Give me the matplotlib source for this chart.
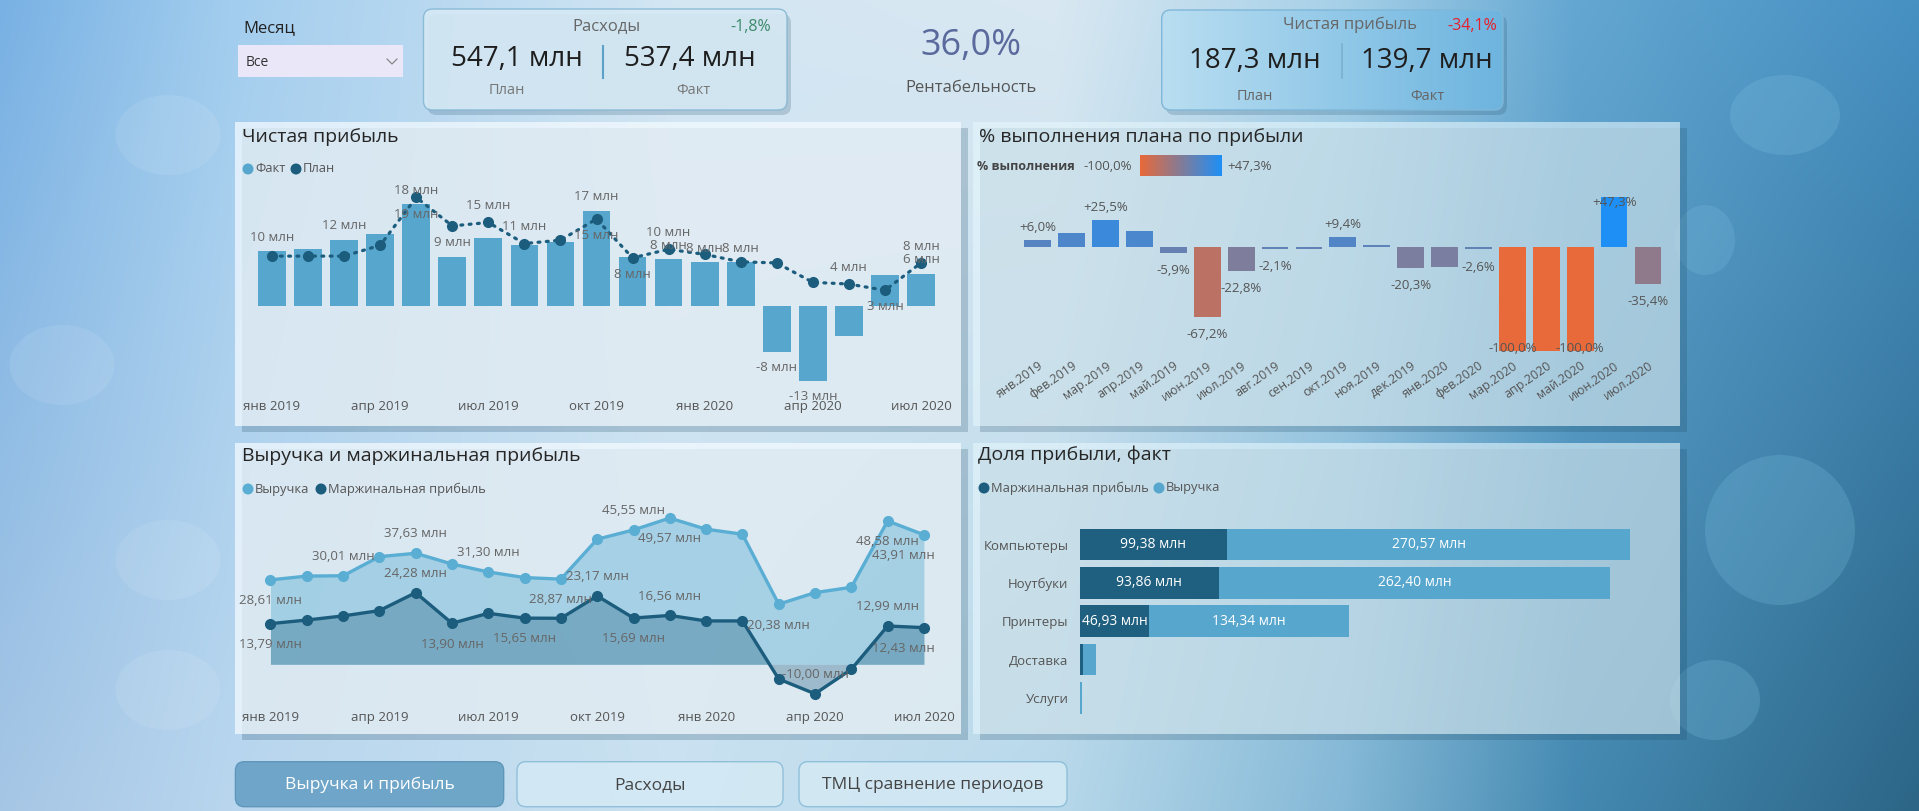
import numpy as np
import matplotlib
matplotlib.use('Agg')
import matplotlib.pyplot as plt
from matplotlib.patches import FancyBboxPatch, Rectangle, Ellipse, Circle
from matplotlib.colors import LinearSegmentedColormap, Normalize, to_rgb

W, H = 1919, 811

# ---- данные ----
month_abbr = ['янв', 'фев', 'мар', 'апр', 'май', 'июн', 'июл', 'авг', 'сен', 'окт', 'ноя', 'дек',
              'янв', 'фев', 'мар', 'апр', 'май', 'июн', 'июл']
month_year = [2019, 2019, 2019, 2019, 2019, 2019, 2019, 2019, 2019, 2019, 2019, 2019,
              2020, 2020, 2020, 2020, 2020, 2020, 2020]

# Чистая прибыль, млн
profit_fact = [9.6, 9.9, 11.6, 12.5, 17.8, 8.6, 11.8, 10.6, 11.2, 16.7, 8.6, 8.2,
               7.6, 7.6, -8.1, -13.2, -5.4, 5.4, 5.6]
profit_plan = [8.7, 8.7, 8.7, 10.6, 19.0, 14.0, 14.6, 10.9, 11.5, 15.2, 8.4, 9.9,
               9.0, 7.7, 7.5, 4.1, 3.8, 2.7, 7.5]

# % выполнения плана по прибыли
pct_done = [6.0, 12.8, 25.5, 15.0, -5.9, -67.2, -22.8, -2.1, -1.8, 9.4, 1.2, -20.3,
            -19.8, -2.6, -100.0, -100.0, -100.0, 47.3, -35.4]

# Выручка и маржинальная прибыль, млн
revenue = [28.61, 29.9, 30.01, 36.5, 37.63, 34.0, 31.30, 29.4, 28.87, 42.4, 45.55, 49.57,
           45.8, 44.1, 20.38, 24.3, 26.1, 48.58, 43.91]
margin = [13.79, 15.0, 16.4, 18.2, 24.28, 13.90, 17.3, 15.65, 15.6, 23.17, 15.69, 16.56,
          14.7, 14.7, -5.0, -10.00, -1.7, 12.99, 12.43]

# Доля прибыли, факт
categories = ['Компьютеры', 'Ноутбуки', 'Принтеры', 'Доставка', 'Услуги']
cat_margin = [99.38, 93.86, 46.93, 2.6, 0.4]
cat_revenue = [270.57, 262.40, 134.34, 8.7, 1.0]

# карточки
costs_plan, costs_fact = 547.1, 537.4
np_plan, np_fact = 187.3, 139.7
rentab = 36.0

# какие подписи видны (как в отчёте)
fact_lbl = {0: 'up', 2: 'up', 4: 'up', 5: 'up', 9: 'up', 11: 'up', 12: 'up', 13: 'up',
            14: 'down', 15: 'down', 18: 'up'}
plan_lbl = {4: 'down', 6: 'up', 7: 'up', 9: 'down', 10: 'down', 11: 'up', 16: 'up',
            17: 'down', 18: 'up'}
pct_lbl = [0, 2, 4, 5, 6, 7, 9, 11, 13, 14, 16, 17, 18]
rev_lbl = {0: 'down', 2: 'up', 4: 'up', 6: 'up', 8: 'down', 10: 'up', 11: 'down',
           14: 'down', 17: 'down', 18: 'down'}
marg_lbl = {0: 'down', 4: 'up', 5: 'down', 7: 'down', 9: 'up', 10: 'down', 11: 'up',
            15: 'up', 17: 'up', 18: 'down'}

FACT_C = '#56a6cd'
PLAN_C = '#1c5d7e'
LBL_C = '#666666'
TITLE_C = '#252525'

plt.rcParams['font.family'] = ['Open Sans', 'DejaVu Sans']


def rus(v, nd):
    return f'{v:.{nd}f}'.replace('.', ',')


def px_axes(fig, x0, y0, x1, y1):
    ax = fig.add_axes([x0 / W, 1 - y1 / H, (x1 - x0) / W, (y1 - y0) / H])
    ax.set_facecolor('none')
    for s in ax.spines.values():
        s.set_visible(False)
    return ax


def gradient_rows(xs, stops):
    pos = [s[0] for s in stops]
    cols = np.array([to_rgb(s[1]) for s in stops])
    return np.stack([np.interp(xs, pos, cols[:, k]) for k in range(3)], axis=1)


def draw_background(bg):
    xs = np.linspace(0, 1, W)
    top = gradient_rows(xs, [(0, '#78b1e4'), (0.12, '#a2cdee'), (0.35, '#d3e6f3'),
                             (0.55, '#d9e8f2'), (0.7, '#a6d0e8'), (0.82, '#64a7d2'), (1, '#4690c2')])
    bot = gradient_rows(xs, [(0, '#a6c6e5'), (0.12, '#b9d6ee'), (0.35, '#c9e1f0'),
                             (0.55, '#b7d8ea'), (0.7, '#84b8d6'), (0.82, '#4489b1'), (1, '#2c6586')])
    t = np.linspace(0, 1, H)[:, None, None]
    img = top[None] * (1 - t) + bot[None] * t
    bg.imshow(img, extent=(0, W, H, 0), aspect='auto', zorder=0)
    # размытые блики
    for cx, cy, w, h in [(168, 135, 105, 80), (62, 365, 105, 80), (168, 560, 105, 80),
                         (168, 690, 105, 80)]:
        bg.add_patch(Ellipse((cx, cy), w, h, fc='white', alpha=0.09, lw=0, zorder=0.5))
    for cx, cy, w, h in [(1785, 115, 110, 80), (1705, 240, 60, 70), (1780, 530, 150, 150),
                         (1715, 700, 90, 80)]:
        bg.add_patch(Ellipse((cx, cy), w, h, fc='#7cc0e0', alpha=0.25, lw=0, zorder=0.5))


def panel(bg, x0, y0, x1, y1, fc, alpha):
    bg.add_patch(Rectangle((x0 + 7, y0 + 6), x1 - x0, y1 - y0, fc='#1b4763', alpha=0.22,
                           lw=0, zorder=1))
    bg.add_patch(Rectangle((x0, y0), x1 - x0, y1 - y0, fc=fc, alpha=alpha, lw=0, zorder=2))


def card(bg, x0, y0, x1, y1, fc, ec, alpha=0.9, shadow=True):
    if shadow:
        bg.add_patch(FancyBboxPatch((x0 + 4, y0 + 5), x1 - x0, y1 - y0,
                                    boxstyle='round,pad=0,rounding_size=9',
                                    fc='#1b4763', alpha=0.2, lw=0, zorder=1))
    p = FancyBboxPatch((x0, y0), x1 - x0, y1 - y0, boxstyle='round,pad=0,rounding_size=9',
                       fc=fc, ec=ec, lw=1.0, alpha=alpha, zorder=2)
    bg.add_patch(p)
    return p


def legend_dot(bg, x, y, color, text, size=9.3):
    bg.add_patch(Circle((x, y), 5.5, fc=color, lw=0, zorder=5))
    bg.text(x + 7, y, text, fontsize=size, color='#555555', va='center', ha='left', zorder=5)


def header(bg):
    bg.text(243, 28, 'Месяц', fontsize=12, color='#222222', va='center', zorder=5)
    bg.add_patch(Rectangle((238, 45), 165, 32, fc='#e9e7f8', lw=0, zorder=3))
    bg.text(246, 62, 'Все', fontsize=10, color='#333333', va='center', zorder=5)
    bg.plot([387, 392, 397], [59, 64, 59], color='#888888', lw=0.9, zorder=5)

    # Расходы
    card(bg, 423.5, 9, 787, 110, '#d6e9f5', '#86b7d3')
    bg.text(606, 26, 'Расходы', fontsize=12, color='#666666', ha='center', va='center', zorder=5)
    dev_c = (costs_fact - costs_plan) / costs_fact * 100
    bg.text(771, 27, f'{rus(dev_c, 1)}%', fontsize=11.5, color='#3c8a6a', ha='right',
            va='center', zorder=5)
    bg.text(517, 59, f'{rus(costs_plan, 1)} млн', fontsize=20, color='#1e1e1e', ha='center',
            va='center', zorder=5)
    bg.text(690, 59, f'{rus(costs_fact, 1)} млн', fontsize=20, color='#1e1e1e', ha='center',
            va='center', zorder=5)
    bg.plot([603, 603], [46, 78], color='#5aa0c8', lw=1.5, zorder=5)
    bg.text(507, 90, 'План', fontsize=10.5, color='#777777', ha='center', va='center', zorder=5)
    bg.text(693, 90, 'Факт', fontsize=10.5, color='#777777', ha='center', va='center', zorder=5)

    # Рентабельность
    bg.text(971, 46, f'{rus(rentab, 1)}%', fontsize=26, color='#5a6a9c', ha='center',
            va='center', zorder=5)
    bg.text(971, 88, 'Рентабельность', fontsize=12, color='#555555', ha='center',
            va='center', zorder=5)

    # Чистая прибыль
    p = card(bg, 1161.7, 10, 1503, 110, 'none', '#7fb7d8', alpha=1)
    grad = gradient_rows(np.linspace(0, 1, 200), [(0, '#b9def1'), (1, '#6db4df')])
    im = bg.imshow(np.repeat(grad[None], 2, axis=0), extent=(1161.7, 1503, 110, 10),
                   aspect='auto', zorder=1.9)
    im.set_clip_path(p)
    dev_p = (np_fact - np_plan) / np_fact * 100
    bg.text(1350, 25, 'Чистая прибыль', fontsize=12, color='#666666', ha='center',
            va='center', zorder=5)
    bg.text(1497, 26, f'{rus(dev_p, 1)}%', fontsize=11.5, color='#e81e2a', ha='right',
            va='center', zorder=5)
    bg.text(1255, 61, f'{rus(np_plan, 1)} млн', fontsize=20, color='#1e1e1e', ha='center',
            va='center', zorder=5)
    bg.text(1427, 61, f'{rus(np_fact, 1)} млн', fontsize=20, color='#1e1e1e', ha='center',
            va='center', zorder=5)
    bg.plot([1342, 1342], [44, 78], color='#7ab0cf', lw=1.2, zorder=5)
    bg.text(1255, 96, 'План', fontsize=10.5, color='#666666', ha='center', va='center', zorder=5)
    bg.text(1427, 96, 'Факт', fontsize=10.5, color='#666666', ha='center', va='center', zorder=5)


def buttons(bg):
    card(bg, 235.4, 761.7, 503.7, 806.7, '#6aa3c6', '#5d95b8', alpha=0.95, shadow=False)
    bg.text(370, 785, 'Выручка и прибыль', fontsize=12.5, color='white', ha='center',
            va='center', zorder=5)
    card(bg, 517, 761.7, 783, 806.7, '#d4eaf5', '#86bad6', alpha=0.85, shadow=False)
    bg.text(650, 785, 'Расходы', fontsize=12.5, color='#444444', ha='center', va='center', zorder=5)
    card(bg, 799, 761.7, 1067, 806.7, '#d4eaf5', '#86bad6', alpha=0.85, shadow=False)
    bg.text(933, 785, 'ТМЦ сравнение периодов', fontsize=12.5, color='#444444', ha='center',
            va='center', zorder=5)


def chart_profit(fig, bg):
    bg.text(242, 137, 'Чистая прибыль', fontsize=14, color=TITLE_C, va='center', zorder=5)
    legend_dot(bg, 248, 169, FACT_C, 'Факт')
    legend_dot(bg, 296, 169, PLAN_C, 'План')

    x = np.arange(len(profit_fact))
    ax = px_axes(fig, 250.4, 180.3, 942.6, 391.2)
    ax.bar(x, profit_fact, width=0.77, color=FACT_C, zorder=2)
    ax.plot(x, profit_plan, ls=(0, (0.6, 2.0)), lw=2.3, color=PLAN_C, dash_capstyle='round',
            zorder=3)
    ax.plot(x, profit_plan, ls='none', marker='o', ms=7, color=PLAN_C, zorder=4)
    ax.set_xlim(-0.6, 18.6)
    ax.set_ylim(-15, 22)
    ax.set_yticks([])
    ax.set_xticks(x[::3], [f'{month_abbr[i]} {month_year[i]}' for i in x[::3]])
    ax.tick_params(axis='x', length=0, pad=6, labelsize=9.5, colors='#555555')
    for i, side in fact_lbl.items():
        off = 10 if side == 'up' else -11
        ax.annotate(f'{profit_fact[i]:.0f} млн', (i, profit_fact[i]), xytext=(0, off),
                    textcoords='offset points', ha='center', va='center', fontsize=9.5,
                    color=LBL_C, zorder=5)
    for i, side in plan_lbl.items():
        off = 12 if side == 'up' else -12
        ax.annotate(f'{profit_plan[i]:.0f} млн', (i, profit_plan[i]), xytext=(0, off),
                    textcoords='offset points', ha='center', va='center', fontsize=9.5,
                    color=LBL_C, zorder=5)


def chart_pct(fig, bg):
    bg.text(979, 137, '% выполнения плана по прибыли', fontsize=14, color=TITLE_C,
            va='center', zorder=5)
    cmap = LinearSegmentedColormap.from_list('pct', ['#e8693a', '#1e8ff5'])
    norm = Normalize(min(pct_done), max(pct_done))
    bg.text(977, 166, '% выполнения', fontsize=9, color='#444444', fontweight='bold',
            va='center', zorder=5)
    bg.text(1083, 166, f'{rus(min(pct_done), 1)}%', fontsize=9.5, color='#555555',
            va='center', zorder=5)
    bg.imshow(np.linspace(0, 1, 100)[None], cmap=cmap, extent=(1140, 1222, 176, 155),
              aspect='auto', zorder=5)
    bg.text(1227, 166, f'+{rus(max(pct_done), 1)}%', fontsize=9.5, color='#555555',
            va='center', zorder=5)

    x = np.arange(len(pct_done))
    ax = px_axes(fig, 1017.4, 189.2, 1668.3, 356.4)
    ax.bar(x, pct_done, width=0.79, color=cmap(norm(np.array(pct_done))), zorder=2)
    ax.set_xlim(-0.6, 18.6)
    ax.set_ylim(-105, 55)
    ax.set_yticks([])
    ax.set_xticks(x, [f'{month_abbr[i]}.{month_year[i]}' for i in x], rotation=35,
                  ha='right', rotation_mode='anchor')
    ax.tick_params(axis='x', length=0, pad=2, labelsize=9, colors='#555555')
    for i in pct_lbl:
        v = pct_done[i]
        txt = (f'+{rus(v, 1)}%' if v > 0 else f'{rus(v, 1)}%')
        if v >= 0:
            off = 9 if v + 19 < 55 else -4
        else:
            off = -13 if v - 24 > -105 else 2
        ax.annotate(txt, (i, v), xytext=(0, off), textcoords='offset points', ha='center',
                    va='center', fontsize=9.5, color='#555555', zorder=5)


def chart_revenue(fig, bg):
    bg.text(242, 456, 'Выручка и маржинальная прибыль', fontsize=14, color=TITLE_C,
            va='center', zorder=5)
    legend_dot(bg, 248, 489, '#5aaed4', 'Выручка')
    legend_dot(bg, 321, 489, PLAN_C, 'Маржинальная прибыль')

    x = np.arange(len(revenue))
    ax = px_axes(fig, 248.7, 493.2, 945.7, 705.6)
    ax.fill_between(x, 0, revenue, color='#5aaed4', alpha=0.42, lw=0, zorder=1)
    ax.fill_between(x, 0, margin, color=PLAN_C, alpha=0.33, lw=0, zorder=2)
    ax.plot(x, revenue, color='#5aaed4', lw=2.4, marker='o', ms=7, zorder=3)
    ax.plot(x, margin, color=PLAN_C, lw=2.4, marker='o', ms=7, zorder=4)
    ax.set_xlim(-0.6, 18.6)
    ax.set_ylim(-14, 58)
    ax.set_yticks([])
    ax.set_xticks(x[::3], [f'{month_abbr[i]} {month_year[i]}' for i in x[::3]])
    ax.tick_params(axis='x', length=0, pad=4, labelsize=9.5, colors='#555555')
    last = len(x) - 1
    for series, lbls in ((revenue, rev_lbl), (margin, marg_lbl)):
        for i, side in lbls.items():
            off = 14 if side == 'up' else -15
            ha, dx = ('right', 8) if i == last else ('center', 0)
            ax.annotate(f'{rus(series[i], 2)} млн', (i, series[i]), xytext=(dx, off),
                        textcoords='offset points', ha=ha, va='center', fontsize=9.5,
                        color=LBL_C, zorder=5)


def chart_share(fig, bg):
    bg.text(978, 455, 'Доля прибыли, факт', fontsize=14, color=TITLE_C, va='center', zorder=5)
    legend_dot(bg, 984, 488, PLAN_C, 'Маржинальная прибыль')
    legend_dot(bg, 1159, 488, FACT_C, 'Выручка')

    y = np.arange(len(categories))
    ax = px_axes(fig, 1079.5, 521.6, 1637.5, 720.8)
    ax.barh(y, cat_margin, height=0.83, color='#1f6080', zorder=2)
    ax.barh(y, cat_revenue, left=cat_margin, height=0.83, color=FACT_C, zorder=2)
    ax.set_xlim(0, 375)
    ax.set_ylim(4.6, -0.6)
    ax.set_xticks([])
    ax.set_yticks(y, categories)
    ax.tick_params(axis='y', length=0, pad=8, labelsize=9.5, colors='#555555')
    for i in y:
        if cat_margin[i] > 30:
            ax.text(cat_margin[i] / 2, i, f'{rus(cat_margin[i], 2)} млн', ha='center',
                    va='center', fontsize=10, color='white', zorder=5)
        if cat_revenue[i] > 30:
            ax.text(cat_margin[i] + cat_revenue[i] / 2, i, f'{rus(cat_revenue[i], 2)} млн',
                    ha='center', va='center', fontsize=10, color='white', zorder=5)


def main():
    fig = plt.figure(figsize=(W / 100, H / 100), dpi=100)
    bg = fig.add_axes([0, 0, 1, 1])
    bg.set_xlim(0, W)
    bg.set_ylim(H, 0)
    bg.axis('off')

    draw_background(bg)
    panel(bg, 235, 122, 961, 426, '#f5fbff', 0.72)
    panel(bg, 973, 122, 1680, 426, '#e6f7fd', 0.6)
    panel(bg, 235, 443, 961, 734, '#f5fbff', 0.72)
    panel(bg, 973, 443, 1680, 734, '#e6f7fd', 0.6)
    header(bg)
    buttons(bg)

    chart_profit(fig, bg)
    chart_pct(fig, bg)
    chart_revenue(fig, bg)
    chart_share(fig, bg)

    fig.savefig('out.png', dpi=100)


if __name__ == '__main__':
    main()
